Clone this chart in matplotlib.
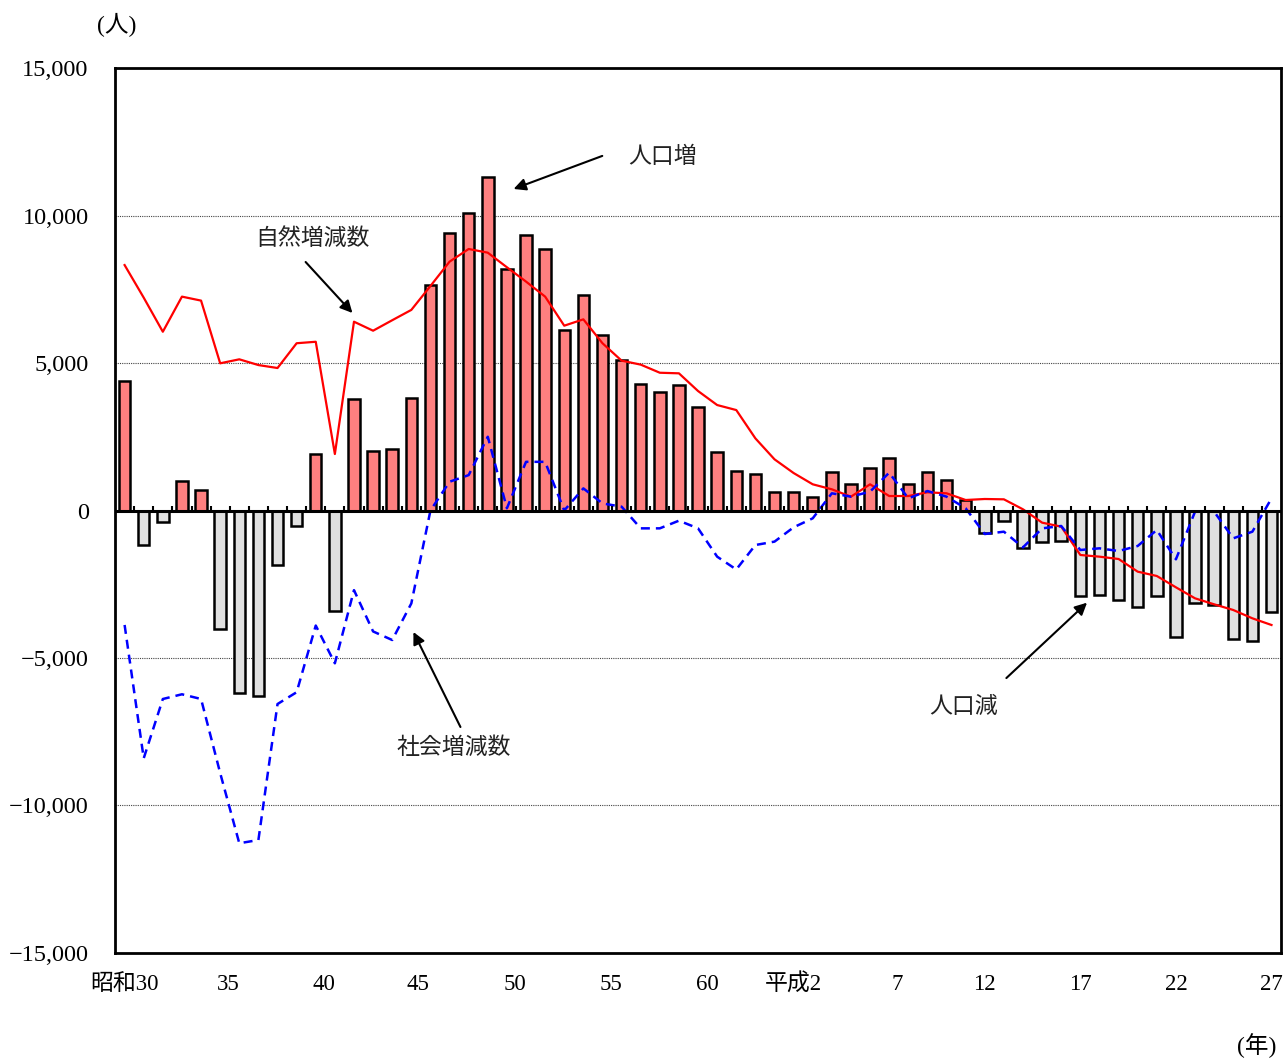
import numpy as np
import matplotlib
matplotlib.use('Agg')
import matplotlib.pyplot as plt
from matplotlib.transforms import ScaledTranslation

plt.rcParams['font.family'] = ['Liberation Serif', 'Noto Sans CJK JP']

# 年次（昭和30年〜平成27年）
years = np.arange(61)
tick_pos = [0, 5, 10, 15, 20, 25, 30, 35, 40, 45, 50, 55, 60]
tick_labels = ['昭和30', '35', '40', '45', '50', '55', '60', '平成2', '7', '12', '17', '22', '27']

# 人口増減数（棒）
total = [4390, -1170, -380, 1000, 695, -4020, -6200, -6290, -1850, -540,
         1915, -3410, 3770, 2030, 2070, 3825, 7640, 9400, 10075, 11295,
         8200, 9340, 8865, 6120, 7305, 5940, 5115, 4300, 4017, 4265,
         3500, 1995, 1350, 1237, 617, 640, 450, 1305, 898, 1450,
         1770, 888, 1305, 1023, 356, -763, -345, -1270, -1068, -1045,
         -2887, -2853, -3045, -3282, -2898, -4277, -3124, -3192, -4367, -4413,
         -3429]

# 自然増減数
natural = [8320, 7215, 6060, 7250, 7115, 4990, 5125, 4930, 4830, 5670,
           5720, 1915, 6400, 6095, 6450, 6800, 7610, 8435, 8865, 8740,
           8245, 7760, 7250, 6265, 6480, 5670, 5080, 4945, 4670, 4650,
           4050, 3575, 3405, 2445, 1735, 1270, 888, 718, 469, 888,
           491, 491, 617, 583, 356, 390, 379, 40, -412, -548,
           -1508, -1565, -1644, -2073, -2220, -2604, -2977, -3180, -3373, -3655,
           -3881]

# 社会増減数
social = [-3880, -8400, -6390, -6230, -6390, -8900, -11280, -11170, -6560, -6160,
          -3900, -5180, -2700, -4100, -4390, -3150, 0, 975, 1200, 2500,
          75, 1650, 1650, 0, 750, 240, 130, -605, -605, -345,
          -605, -1565, -2000, -1170, -1055, -570, -265, 583, 469, 640,
          1282, 412, 660, 469, 75, -797, -718, -1250, -605, -525,
          -1339, -1282, -1373, -1203, -661, -1655, -40, -40, -943, -718,
          412]

fig = plt.figure(figsize=(12.84, 10.61), dpi=100)
ax = fig.add_axes([0.0896, 0.1018, 0.9081, 0.8341])

colors = ['#FF8080' if v >= 0 else '#E0E0E0' for v in total]
ax.bar(years, total, width=0.6, color=colors, edgecolor='black', linewidth=1.8, zorder=3)

ax.plot(years, natural, color='red', lw=1.6, zorder=4)
ax.plot(years, social, color='blue', lw=1.8, linestyle=(0, (3.6, 2.4)), zorder=4)

# 0の線と目盛
ax.axhline(0, color='black', lw=2.2, zorder=5)
ax.vlines(np.arange(0.5, 60, 1), 0, 160, colors='black', lw=1.5, zorder=5)

for y in [-10000, -5000, 5000, 10000]:
    ax.axhline(y, color='#444444', lw=0.8, linestyle=(0, (1, 1)), zorder=1)

ax.set_xlim(-0.5, 60.5)
ax.set_ylim(-15000, 15000)
yt = [15000, 10000, 5000, 0, -5000, -10000, -15000]
ax.set_yticks(yt)
ax.set_yticklabels([f'{v:,}'.replace('-', '−') for v in yt], fontsize=17.5)
ax.set_xticks(tick_pos)
ax.set_xticklabels(tick_labels, fontsize=16.5)
ax.tick_params(axis='x', length=0, pad=15)
ax.tick_params(axis='y', length=0, pad=19)

# ラベル位置の微調整
shift = [0, 8, 8, 7, 8, 8, 9, 0, 8, 0, 0, 0, 0]
for lab, dx in zip(ax.get_xticklabels(), shift):
    lab.set_transform(lab.get_transform() + ScaledTranslation(dx / 100, 0, fig.dpi_scale_trans))

for s in ax.spines.values():
    s.set_linewidth(2)
    s.set_color('black')

# 注釈
arrow = dict(arrowstyle='-|>', color='black', lw=1.5, mutation_scale=18, shrinkA=0, shrinkB=0)
txt = dict(fontsize=16.5, color='#222222', ha='center', va='center', family=['Noto Sans CJK JP'])

ax.annotate('', xy=(20.35, 10900), xytext=(24.99, 12020), arrowprops=arrow, zorder=6)
ax.text(28.12, 12000, '人口増', **txt)

ax.annotate('', xy=(11.92, 6695), xytext=(9.47, 8424), arrowprops=arrow, zorder=6)
ax.text(9.83, 9237, '自然増減数', **txt)

ax.annotate('', xy=(15.11, -4119), xytext=(17.57, -7339), arrowprops=arrow, zorder=6)
ax.text(17.2, -8017, '社会増減数', **txt)

ax.annotate('', xy=(50.35, -3125), xytext=(46.13, -5680), arrowprops=arrow, zorder=6)
ax.text(43.9, -6650, '人口減', **txt)

fig.text(117 / 1284, 1 - 25 / 1061, '(人)', fontsize=17, ha='center', va='center')
fig.text(1257 / 1284, 1 - 1046 / 1061, '(年)', fontsize=17, ha='center', va='center')

fig.savefig('out.png', dpi=100)
